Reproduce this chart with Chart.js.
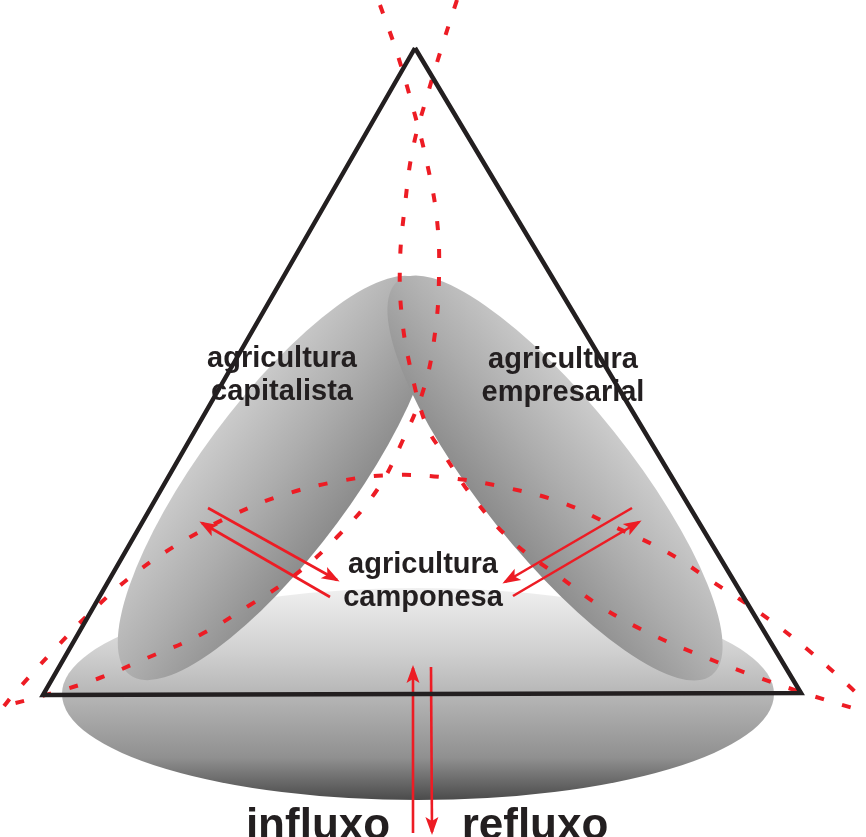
<!DOCTYPE html>
<html>
<head>
<meta charset="utf-8">
<script src="https://cdn.jsdelivr.net/npm/chart.js@4.4.0/dist/chart.umd.min.js"></script>
<style>
    body { margin: 0; background: #fff; }
    #wrap { width: 866px; height: 837px; }
</style>
</head>
<body>
<div id="wrap"><canvas id="diagram"></canvas></div>
<script>
// triangle corners (x, y in picture units)
const triangle = [[415, 48], [43, 695], [801, 693], [415, 48]];

// gray ellipses: the two tips of the long axis, then the half width
const ellipseTips = [
    [[62, 694], [774, 694]],   // camponesa
    [[422, 281], [130, 675]],  // capitalista
    [[398, 281], [712, 675]]   // empresarial
];
const ellipseHalfWidth = [106, 76, 75];

// red dotted curves
const curveLeft = [[380, 5], [397, 53], [413, 108], [427, 163], [437, 220], [439, 277], [435, 333],
    [424, 388], [402, 442], [377, 490], [337, 537], [295, 575], [250, 605], [200, 635], [147, 658],
    [97, 679], [42, 696], [0, 707]];
const curveRight = [[457, 0], [444, 40], [428, 93], [413, 148], [405, 205], [400, 262], [402, 318],
    [412, 375], [427, 427], [443, 453], [475, 500], [513, 542], [560, 577], [603, 608], [653, 635],
    [707, 658], [760, 678], [813, 696], [866, 712]];
const curveBottom = [[4, 706], [13, 695], [52, 652], [90, 613], [133, 575], [180, 543], [233, 515],
    [283, 495], [340, 481], [393, 475], [450, 478], [508, 488], [563, 503], [615, 527], [667, 552],
    [713, 582], [760, 613], [807, 649], [849, 686], [866, 703]];

// arrows: start, tip
const arrows = [
    [[208, 508], [337, 580]],
    [[330, 597], [202, 523]],
    [[632, 508], [505, 582]],
    [[513, 596], [639, 522]],
    [[413, 833], [413, 668]],
    [[431, 667], [432, 832]]
];

// texts and where their first baseline sits
const labels = [['agricultura', 'capitalista'], ['agricultura', 'empresarial'], ['agricultura', 'camponesa'], ['influxo'], ['refluxo']];
const labelAnchors = [[282, 367], [563, 368], [423, 573], [318, 839], [535, 839]];
const labelBig = [false, false, false, true, true];

const black = '#231f20';
const red = '#ed1c24';

function toXY(list) {
    return list.map(function (p) { return { x: p[0], y: p[1] }; });
}

const shapesPlugin = {
    id: 'shapes',
    beforeDatasetsDraw: function (chart) {
        const ctx = chart.ctx, xs = chart.scales.x, ys = chart.scales.y;
        ellipseTips.forEach(function (tips, i) {
            const x1 = xs.getPixelForValue(tips[0][0]), y1 = ys.getPixelForValue(tips[0][1]);
            const x2 = xs.getPixelForValue(tips[1][0]), y2 = ys.getPixelForValue(tips[1][1]);
            const cx = (x1 + x2) / 2, cy = (y1 + y2) / 2;
            const a = Math.hypot(x2 - x1, y2 - y1) / 2;
            const b = Math.abs(ys.getPixelForValue(ellipseHalfWidth[i]) - ys.getPixelForValue(0));
            const rot = Math.atan2(y2 - y1, x2 - x1);
            let grad;
            if (i === 0) {
                grad = ctx.createLinearGradient(cx, cy - b, cx, cy + b);
                grad.addColorStop(0, '#f0f0f0');
                grad.addColorStop(0.3, '#d0d0d0');
                grad.addColorStop(0.55, '#b0b0b0');
                grad.addColorStop(0.8, '#909090');
                grad.addColorStop(1, '#4b4b4b');
            } else {
                // light on the upper side of the long axis
                let nx = -Math.sin(rot), ny = Math.cos(rot);
                if (ny > 0) { nx = -nx; ny = -ny; }
                grad = ctx.createLinearGradient(cx + nx * b, cy + ny * b, cx - nx * b, cy - ny * b);
                grad.addColorStop(0, '#cbcbcb');
                grad.addColorStop(0.5, '#adadad');
                grad.addColorStop(1, '#8c8c8c');
            }
            ctx.save();
            ctx.beginPath();
            ctx.ellipse(cx, cy, a, b, rot, 0, Math.PI * 2);
            ctx.fillStyle = grad;
            ctx.fill();
            ctx.restore();
        });
    },
    afterDatasetsDraw: function (chart) {
        const ctx = chart.ctx, xs = chart.scales.x, ys = chart.scales.y;
        ctx.save();
        // arrow heads
        ctx.fillStyle = red;
        arrows.forEach(function (ar) {
            const sx = xs.getPixelForValue(ar[0][0]), sy = ys.getPixelForValue(ar[0][1]);
            const tx = xs.getPixelForValue(ar[1][0]), ty = ys.getPixelForValue(ar[1][1]);
            const len = Math.hypot(tx - sx, ty - sy);
            const ux = (tx - sx) / len, uy = (ty - sy) / len;
            const px = -uy, py = ux;
            const hx = tx + ux * 3, hy = ty + uy * 3;
            const L = 18, W = 6.5, N = 4;
            ctx.beginPath();
            ctx.moveTo(hx, hy);
            ctx.lineTo(hx - ux * L + px * W, hy - uy * L + py * W);
            ctx.lineTo(hx - ux * (L - N), hy - uy * (L - N));
            ctx.lineTo(hx - ux * L - px * W, hy - uy * L - py * W);
            ctx.closePath();
            ctx.fill();
        });
        // texts
        ctx.fillStyle = black;
        ctx.textAlign = 'center';
        ctx.textBaseline = 'alphabetic';
        labels.forEach(function (lines, i) {
            const size = labelBig[i] ? 44 : 29;
            ctx.font = 'bold ' + size + 'px "Liberation Sans", Arial, sans-serif';
            const x = xs.getPixelForValue(labelAnchors[i][0]);
            lines.forEach(function (t, k) {
                const y = ys.getPixelForValue(labelAnchors[i][1] + k * 33);
                ctx.fillText(t, x, y);
            });
        });
        ctx.restore();
    }
};

const lineBase = { showLine: true, fill: false, pointRadius: 0, pointHoverRadius: 0 };

const datasets = [];
datasets.push(Object.assign({}, lineBase, {
    label: 'triângulo', data: toXY(triangle), borderColor: black, borderWidth: 4.5,
    borderJoinStyle: 'miter', tension: 0
}));
[curveLeft, curveRight, curveBottom].forEach(function (c, i) {
    datasets.push(Object.assign({}, lineBase, {
        label: 'curva ' + (i + 1), data: toXY(c), borderColor: red, borderWidth: 4,
        borderDash: [9, 19], borderCapStyle: 'butt', tension: 0.4
    }));
});
arrows.forEach(function (ar, i) {
    datasets.push(Object.assign({}, lineBase, {
        label: 'seta ' + (i + 1), data: toXY(ar), borderColor: red, borderWidth: 2.6, tension: 0
    }));
});

new Chart(document.getElementById('diagram'), {
    type: 'scatter',
    data: { datasets: datasets },
    options: {
        responsive: true,
        maintainAspectRatio: false,
        animation: false,
        events: [],
        layout: { padding: 0 },
        plugins: { legend: { display: false }, tooltip: { enabled: false } },
        scales: {
            x: { type: 'linear', min: 0, max: 866, display: false },
            y: { type: 'linear', min: 0, max: 837, reverse: true, display: false }
        }
    },
    plugins: [shapesPlugin]
});
</script>
</body>
</html>
